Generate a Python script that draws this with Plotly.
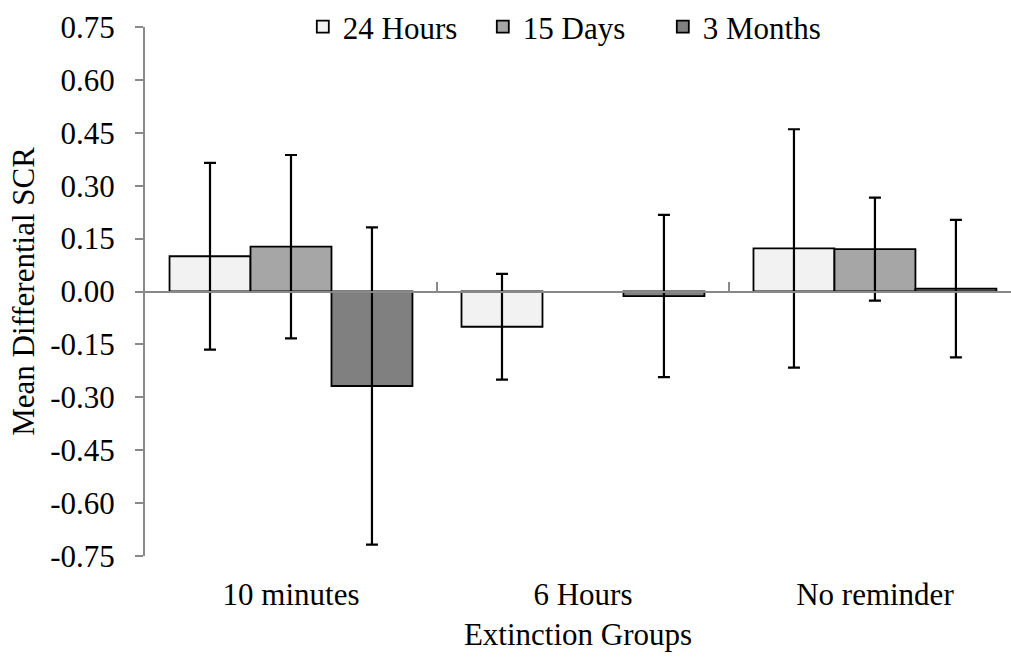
import plotly.graph_objects as go

categories = ["10 minutes", "6 Hours", "No reminder"]
series_names = ["24 Hours", "15 Days", "3 Months"]
vals_24h = [0.100, -0.100, 0.122]
err_24h = [0.265, 0.150, 0.338]
vals_15d = [0.127, None, 0.120]
err_15d = [0.260, None, 0.146]
vals_3m = [-0.268, -0.013, 0.008]
err_3m = [0.450, 0.230, 0.195]
colors = ["#f2f2f2", "#a6a6a6", "#808080"]
ytick_vals = [-0.75, -0.60, -0.45, -0.30, -0.15, 0.0, 0.15, 0.30, 0.45, 0.60, 0.75]
ytick_text = ["-0.75", "-0.60", "-0.45", "-0.30", "-0.15", "0.00", "0.15", "0.30", "0.45", "0.60", "0.75"]

FONT = "Liberation Serif"
FS = 31
AXC = "#898989"

fig = go.Figure()
for name, v, e, c in zip(series_names, [vals_24h, vals_15d, vals_3m],
                         [err_24h, err_15d, err_3m], colors):
    fig.add_trace(go.Bar(
        x=categories, y=v, name=name,
        marker=dict(color=c, line=dict(color="black", width=1.8)),
        error_y=dict(type="data", array=e, visible=True, color="black",
                     thickness=2.2, width=6),
    ))

# helper trace for the zero-line axis
fig.add_trace(go.Scatter(x=[None], y=[None], xaxis="x2", yaxis="y",
                         showlegend=False, hoverinfo="skip"))

fig.update_layout(
    width=1011, height=657,
    margin=dict(l=145, r=0, t=25, b=101),
    paper_bgcolor="white", plot_bgcolor="white",
    font=dict(family=FONT, size=FS, color="black"),
    barmode="group", bargap=0.168, bargroupgap=0,
    showlegend=True,
    legend=dict(orientation="h", x=0.494, xanchor="center", y=1.0, yanchor="middle",
                font=dict(family=FONT, size=FS), bgcolor="rgba(0,0,0,0)",
                entrywidth=135, traceorder="normal"),
    xaxis=dict(type="category", range=[-0.5, 2.466], showline=False, ticks="",
               showgrid=False, zeroline=False,
               tickfont=dict(family=FONT, size=FS), ticklabelstandoff=17,
               title=dict(text="Extinction Groups", font=dict(family=FONT, size=FS), standoff=12)),
    xaxis2=dict(overlaying="x", anchor="free", position=0.5, type="linear",
                range=[-0.5, 2.466], showline=True, linecolor=AXC, linewidth=2,
                ticks="inside", ticklen=9, tickwidth=2, tickcolor=AXC,
                tickvals=[0.5, 1.5], showticklabels=False, showgrid=False,
                zeroline=False, layer="above traces"),
    yaxis=dict(range=[-0.75, 0.75], tickvals=ytick_vals, ticktext=ytick_text,
               showline=True, linecolor=AXC, linewidth=2,
               ticks="outside", ticklen=8, tickwidth=2, tickcolor=AXC,
               showgrid=False, zeroline=False,
               tickfont=dict(family=FONT, size=FS), ticklabelstandoff=14,
               title=dict(text="Mean Differential SCR", font=dict(family=FONT, size=FS), standoff=6)),
)

fig.write_html("out.html")
